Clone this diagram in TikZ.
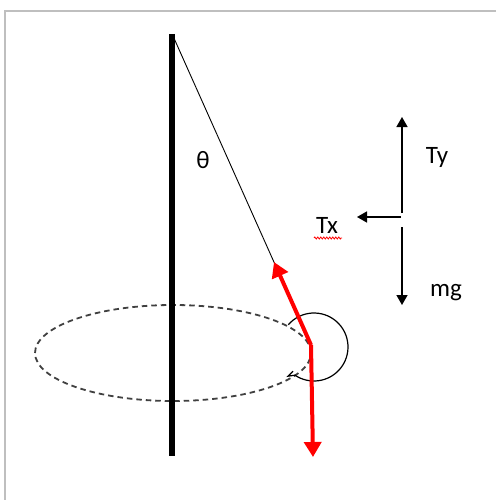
\documentclass[tikz,border=0pt]{standalone}
\usepackage{fontspec}
\setmainfont{Carlito}
\usetikzlibrary{arrows.meta,decorations.pathmorphing,shapes.geometric,calc}
\begin{document}
\begin{tikzpicture}[x=1pt,y=-1pt,
  lbl/.style={font=\fontsize{25}{28}\selectfont, inner sep=0pt},
  force/.style={line width=1.5pt, -{Triangle[length=10pt,width=11pt]}},
  redforce/.style={red, line width=4pt, -{Triangle[length=15pt,width=17pt]}}]
\useasboundingbox (0,0) rectangle (496,500);
% frame
\draw[gray!50, line width=2pt] (496,11) -- (5,11) -- (5,500);
% ellipse (dashed)
\node[draw, dash pattern=on 5.5pt off 4pt, line width=1.8pt, black!75, ellipse, minimum width=276pt, minimum height=96pt, inner sep=0pt] (orbit) at (173,353) {};
% pole
\coordinate (poletop) at (172,34);
\coordinate (polebot) at (172,456);
\draw[line width=6pt] (poletop) -- (polebot);
% string
\coordinate (bob) at (311,345);
\draw[line width=0.9pt] (173,36) -- (bob);
% arc
\coordinate (arcc) at (314,347);
\draw[line width=1.2pt] ($(arcc)+(139:34pt)$) arc[start angle=139, end angle=-124, radius=34pt] -- ++(-7,1) -- ++(5,-5);
% red forces
\coordinate (tup) at (274,262);
\coordinate (tdown) at (313,457);
\draw[redforce] (bob) -- (tup);
\draw[redforce] (bob) -- (tdown);
% force diagram
\coordinate (ytop) at (402,117);
\coordinate (ymid) at (402,213);
\coordinate (xmid) at (401,217);
\coordinate (xtip) at (357,217);
\coordinate (dtop) at (402,227);
\coordinate (dtip) at (402,305);
\draw[force] (ymid) -- (ytop);
\draw[force] (xmid) -- (xtip);
\draw[force] (dtop) -- (dtip);
\node[lbl] (ty) at (437,157) {Ty};
\node[lbl] (tx) at (327,225) {Tx};
\node[lbl] (mg) at (446,293) {mg};
\node[lbl] (theta) at (203,160) {θ};
\draw[red, line width=0.8pt, decorate, decoration={zigzag, segment length=3pt, amplitude=1pt}] (314,238) -- (342,238);
\end{tikzpicture}
\end{document}
